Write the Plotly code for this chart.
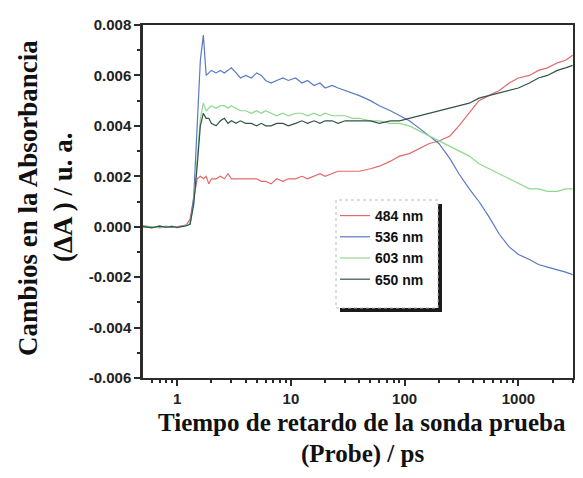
import plotly.graph_objects as go

# ---------------- data ----------------
t_ps = [0.5, 0.6, 0.7, 0.8, 0.9, 1.0, 1.1, 1.2, 1.3, 1.4, 1.5, 1.6, 1.7, 1.8, 1.9, 2.0,
        2.2, 2.4, 2.6, 2.8, 3.0, 3.3, 3.6, 4.0, 4.5, 5.0, 5.5, 6.0, 6.7, 7.5, 8.5, 9.5,
        11, 12.5, 14, 16, 18, 20, 23, 26, 30, 35, 40, 50, 60, 75, 90, 110, 135, 165,
        200, 250, 300, 370, 450, 550, 680, 830, 1000, 1250, 1500, 1800, 2200, 2600, 3000]

nm484 = [0.00003, 0.0, -0.00004, 0.00002, -0.00002, 0.0, 0.00003, 0.00006, 0.0003,
         0.0011, 0.0019, 0.0020, 0.0019, 0.0020, 0.0017, 0.0019,
         0.0019, 0.0020, 0.0019, 0.0021, 0.0019, 0.0019, 0.0019, 0.0019, 0.0019, 0.0019,
         0.0018, 0.0018, 0.0017, 0.0019, 0.0018, 0.0019,
         0.0019, 0.0020, 0.0019, 0.0020, 0.0021, 0.0020, 0.0021, 0.0022, 0.0022, 0.0022,
         0.0022, 0.0023, 0.0024, 0.0026, 0.0028, 0.0029, 0.0031, 0.0033,
         0.0034, 0.0036, 0.0040, 0.0045, 0.0050, 0.0052, 0.0054, 0.0057, 0.0059, 0.0060,
         0.0062, 0.0063, 0.0065, 0.0066, 0.0068]

nm536 = [0.0, -0.00005, 0.00003, -0.00003, 0.0, -0.00004, 0.00002, 0.00005, 0.0001,
         0.0012, 0.0038, 0.0066, 0.0076, 0.0060, 0.0061, 0.0062,
         0.0061, 0.0062, 0.0061, 0.0062, 0.0063, 0.0061, 0.0059, 0.0060, 0.0059, 0.0061,
         0.0060, 0.0058, 0.0057, 0.0058, 0.0059, 0.0058,
         0.0059, 0.0057, 0.0058, 0.0056, 0.0057, 0.0055, 0.0056, 0.0055, 0.0054, 0.0053,
         0.0052, 0.0050, 0.0048, 0.0046, 0.0044, 0.0042, 0.0039, 0.0036,
         0.0033, 0.0027, 0.0021, 0.0015, 0.0010, 0.0004, -0.0003, -0.0008, -0.0011, -0.0013,
         -0.0015, -0.0016, -0.0017, -0.0018, -0.0019]

nm603 = [-0.00002, 0.00001, -0.00005, 0.0, 0.00002, -0.00003, 0.00001, 0.00004, 0.0001,
         0.0009, 0.0026, 0.0043, 0.0049, 0.0046, 0.0047, 0.0048,
         0.0047, 0.0048, 0.0048, 0.0047, 0.0048, 0.0047, 0.0046, 0.0046, 0.0045, 0.0046,
         0.0045, 0.0046, 0.0045, 0.0044, 0.0045, 0.0044,
         0.0045, 0.0045, 0.0044, 0.0045, 0.0044, 0.0045, 0.0044, 0.0044, 0.0044, 0.0043,
         0.0043, 0.0042, 0.0042, 0.0041, 0.0041, 0.0040, 0.0038, 0.0036,
         0.0034, 0.0032, 0.0030, 0.0028, 0.0025, 0.0023, 0.0021, 0.0019, 0.0017, 0.0015,
         0.0015, 0.0014, 0.0014, 0.0015, 0.0015]

nm650 = [0.0, -0.00004, 0.00002, -0.00002, 0.00001, -0.00003, 0.0, 0.00003, 0.0001,
         0.0009, 0.0024, 0.0040, 0.0045, 0.0043, 0.0043, 0.0041,
         0.0040, 0.0042, 0.0043, 0.0041, 0.0042, 0.0041, 0.0042, 0.0041, 0.0041, 0.0040,
         0.0041, 0.0040, 0.0040, 0.0041, 0.0041, 0.0040,
         0.0041, 0.0042, 0.0041, 0.0042, 0.0041, 0.0042, 0.0042, 0.0041, 0.0042, 0.0042,
         0.0042, 0.0042, 0.0041, 0.0042, 0.0042, 0.0043, 0.0044, 0.0045,
         0.0046, 0.0047, 0.0048, 0.0049, 0.0051, 0.0052, 0.0053, 0.0054, 0.0055, 0.0057,
         0.0059, 0.0060, 0.0062, 0.0063, 0.0064]

series_names = ["484 nm", "536 nm", "603 nm", "650 nm"]
series_values = [nm484, nm536, nm603, nm650]
series_colors = ["#e06a6a", "#5a78c4", "#8fd88f", "#35524a"]

x_tick_vals = [1, 10, 100, 1000]
x_tick_text = ["1", "10", "100", "1000"]
x_minor_vals = [0.5, 0.6, 0.7, 0.8, 0.9, 2, 3, 4, 5, 6, 7, 8, 9, 20, 30, 40, 50, 60, 70, 80, 90,
                200, 300, 400, 500, 600, 700, 800, 900, 2000, 3000]
y_tick_vals = [-0.006, -0.004, -0.002, 0.0, 0.002, 0.004, 0.006, 0.008]
y_tick_text = ["-0.006", "-0.004", "-0.002", "0.000", "0.002", "0.004", "0.006", "0.008"]
y_minor_vals = [-0.005, -0.003, -0.001, 0.001, 0.003, 0.005, 0.007]

x_title_lines = ["Tiempo de retardo de la sonda prueba", "(Probe) / ps"]
y_title_lines = ["Cambios en la Absorbancia", "(ΔA ) / u. a."]

# ---------------- figure ----------------
# the page body adds an 8px margin, so the figure is sized/positioned to compensate
OFF = 8
W, H = 583 - OFF, 478 - 2 * OFF
PL, PR, PT, PB = 143, 573, 25, 378          # plot area in page pixels
L, T = PL - OFF, PT - OFF
R, B = W - (PR - OFF), H - (PB - OFF)
pw, ph = W - L - R, H - T - B


def px(X):
    return (X - OFF - L) / pw


def py(Y):
    return (H - B - (Y - OFF)) / ph


fig = go.Figure()
for name, vals, col in zip(series_names, series_values, series_colors):
    fig.add_trace(go.Scatter(x=t_ps, y=vals, mode="lines", name=name,
                             line=dict(color=col, width=1.2)))

axis_col = "#2b2b2b"
tickfont = dict(family="Liberation Sans", size=15, color="#222", weight="bold")

fig.update_layout(
    width=W, height=H,
    margin=dict(l=L, r=R, t=T, b=B, autoexpand=False),
    paper_bgcolor="white", plot_bgcolor="white",
    showlegend=True,
    legend=dict(x=px(335), y=py(200), xanchor="left", yanchor="top",
                bgcolor="rgba(0,0,0,0)", borderwidth=0,
                font=dict(family="Liberation Sans", size=14, color="#111", weight="bold"),
                itemwidth=30, tracegroupgap=0),
    xaxis=dict(type="log", range=[-0.30, 3.48], automargin=False,
               tickmode="array", tickvals=x_tick_vals, ticktext=x_tick_text,
               ticks="outside", ticklen=6, tickwidth=2, tickcolor=axis_col,
               minor=dict(tickmode="array", tickvals=x_minor_vals, ticks="outside",
                          ticklen=3, tickwidth=1.5, tickcolor=axis_col, showgrid=False),
               showline=True, linewidth=2, linecolor=axis_col, mirror=True,
               showgrid=False, zeroline=False, tickfont=tickfont),
    xaxis2=dict(type="log", range=[-0.30, 3.48], overlaying="x", side="top",
                automargin=False,
                tickmode="array", tickvals=x_tick_vals, showticklabels=False,
                ticks="inside", ticklen=6, tickwidth=2, tickcolor=axis_col,
                minor=dict(tickmode="array", tickvals=x_minor_vals, ticks="inside",
                           ticklen=3, tickwidth=1.5, tickcolor=axis_col, showgrid=False),
                showline=False, showgrid=False, zeroline=False),
    yaxis=dict(range=[-0.006, 0.008], automargin=False,
               tickmode="array", tickvals=y_tick_vals, ticktext=y_tick_text,
               ticks="outside", ticklen=6, tickwidth=2, tickcolor=axis_col,
               minor=dict(tickmode="array", tickvals=y_minor_vals, ticks="outside",
                          ticklen=3, tickwidth=1.5, tickcolor=axis_col, showgrid=False),
               showline=True, linewidth=2.5, linecolor=axis_col, mirror="ticks",
               showgrid=False, zeroline=False, tickfont=tickfont),
)

# legend box with dark drop shadow
fig.add_shape(type="rect", xref="paper", yref="paper",
              x0=px(340), x1=px(442), y0=py(312), y1=py(204),
              fillcolor="#1a1a1a", line=dict(width=0), layer="above")
fig.add_shape(type="rect", xref="paper", yref="paper",
              x0=px(336), x1=px(438), y0=py(308), y1=py(200),
              fillcolor="white", line=dict(color="#bbbbbb", width=1, dash="dot"),
              layer="above")

# axis titles (one annotation per line)
xtitlefont = dict(family="Liberation Serif", size=25, color="#111", weight="bold")
ytitlefont = dict(family="Liberation Serif", size=27, color="#111", weight="bold")
for line, yc in zip(x_title_lines, [423, 454]):
    fig.add_annotation(text=line, xref="paper", yref="paper", x=px(362), y=py(yc),
                       xanchor="center", yanchor="middle", showarrow=False, font=xtitlefont)
for line, xc in zip(y_title_lines, [28, 63]):
    fig.add_annotation(text=line, xref="paper", yref="paper", x=px(xc), y=py(198),
                       xanchor="center", yanchor="middle", showarrow=False,
                       textangle=-90, font=ytitlefont)

fig.write_html("out.html")
